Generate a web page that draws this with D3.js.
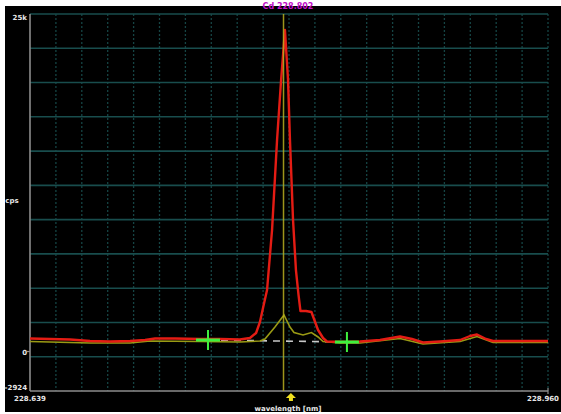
<!DOCTYPE html>
<html><head><meta charset="utf-8">
<script src="https://cdn.jsdelivr.net/npm/d3@7"></script>
<style>html,body{margin:0;padding:0;background:#fff;overflow:hidden}</style>
</head><body>
<svg id="c" width="561" height="414"></svg>
<script>
// ---- data ----
const title = "Cd 228.802";
const xDomain = [228.639, 228.960];
const yDomain = [-2924, 25000];
const xTickLabels = ["228.639", "228.960"];
const yTickLabels = [["25k", 25000], ["0", 0], ["-2924", -2924]];
const yAxisTitle = "cps";
const xAxisTitle = "wavelength [nm]";

const redWl = [228.639,228.6514,228.6638,228.6762,228.6886,228.7010,228.7103,228.7165,228.7289,228.7443,228.7567,228.7691,228.7753,228.7791,228.7815,228.7834,228.7859,228.7890,228.7921,228.7946,228.7970,228.7989,228.8001,228.8020,228.8038,228.8054,228.8066,228.8100,228.8134,228.8175,228.8206,228.8230,228.8342,228.8435,228.8559,228.8683,228.8757,228.8825,228.8931,228.9055,228.9117,228.9160,228.9216,228.9259,228.9426,228.9600];
const redCps = [965,928,891,780,743,780,854,965,965,928,928,891,1002,1372,2187,3224,4557,9001,15668,20112,23815,20112,15668,9742,6038,4187,3002,3002,2928,1594,1002,743,705,743,854,1113,928,668,743,854,1150,1261,928,780,780,780];

const yelWl = [228.639,228.6762,228.7010,228.7134,228.7443,228.7691,228.7815,228.7846,228.7908,228.7964,228.8001,228.8026,228.8082,228.8134,228.8175,228.8206,228.8311,228.8435,228.8683,228.8825,228.9055,228.9160,228.9259,228.9600];
const yelCps = [817,705,705,854,817,780,854,1002,1891,2779,1891,1483,1298,1483,1150,817,705,705,1039,631,817,1187,743,743];

const bgWl = [228.7493, 228.8354];
const bgCps = [854, 705];
const markerWl = 228.7961;   // vertical yellow line
const arrowWl = 228.8007;    // arrow below axis

// ---- drawing ----
const svg = d3.select("#c");
const L = 30, R = 548, T = 14, B = 391;
const x = d3.scaleLinear().domain(xDomain).range([L, R]);
const y = d3.scaleLinear().domain(yDomain).range([B, T]);

svg.append("rect").attr("x",5).attr("y",6).attr("width",556).attr("height",406).attr("fill","#000");

// grid
const gx = d3.range(21).map(i => xDomain[0] + i*(xDomain[1]-xDomain[0])/20);
const gy = d3.range(12).map(i => yDomain[0] + i*(yDomain[1]-yDomain[0])/11);
svg.append("g").selectAll("line").data(gx.slice(1)).join("line")
  .attr("x1", d=>x(d)).attr("x2", d=>x(d)).attr("y1", T).attr("y2", B)
  .attr("stroke", "#154444").attr("stroke-width", 1.3).attr("stroke-dasharray", "2,2");
svg.append("g").selectAll("line").data(gy.slice(1)).join("line")
  .attr("x1", L).attr("x2", R).attr("y1", d=>y(d)).attr("y2", d=>y(d))
  .attr("stroke", "#184d4d").attr("stroke-width", 1.6);

// axes
svg.append("line").attr("x1",L).attr("x2",L).attr("y1",T).attr("y2",B).attr("stroke","#8c8c8c").attr("stroke-width",1.6);
svg.append("line").attr("x1",L).attr("x2",R).attr("y1",B).attr("y2",B).attr("stroke","#8c8c8c").attr("stroke-width",1.6);
svg.append("line").attr("x1",R).attr("x2",R).attr("y1",B-3).attr("y2",B+3).attr("stroke","#8c8c8c").attr("stroke-width",1.2);
svg.append("line").attr("x1",L-3).attr("x2",L).attr("y1",y(0)).attr("y2",y(0)).attr("stroke","#8c8c8c").attr("stroke-width",1.2);

const line = d3.line().x(d=>x(d[0])).y(d=>y(d[1]));

// background dashed line
svg.append("path").datum(d3.zip(bgWl, bgCps)).attr("d", line)
  .attr("fill","none").attr("stroke","#c8c8c8").attr("stroke-width",1.6).attr("stroke-dasharray","7,6");

// yellow trace
svg.append("path").datum(d3.zip(yelWl, yelCps)).attr("d", line)
  .attr("fill","none").attr("stroke","#9a9a14").attr("stroke-width",1.6).attr("transform","translate(0,1)");

// red trace
svg.append("path").datum(d3.zip(redWl, redCps)).attr("d", line)
  .attr("fill","none").attr("stroke","#e41c14").attr("stroke-width",2.4).attr("stroke-linejoin","round");

// marker line
svg.append("line").attr("x1",x(markerWl)).attr("x2",x(markerWl)).attr("y1",T).attr("y2",B)
  .attr("stroke","#b8b020").attr("stroke-width",1.5).attr("opacity",0.85);

// crosses
bgWl.forEach((w,i) => {
  const cx = x(w), cy = y(bgCps[i]);
  svg.append("line").attr("x1",cx-12).attr("x2",cx+12).attr("y1",cy).attr("y2",cy).attr("stroke","#3ef03e").attr("stroke-width",3);
  svg.append("line").attr("x1",cx).attr("x2",cx).attr("y1",cy-10).attr("y2",cy+10).attr("stroke","#3ef03e").attr("stroke-width",2);
});

// arrow
const ax = x(arrowWl);
svg.append("path").attr("d", `M${ax},${B+2} L${ax+5},${B+7} L${ax+2},${B+7} L${ax+2},${B+10} L${ax-2},${B+10} L${ax-2},${B+7} L${ax-5},${B+7} Z`)
  .attr("fill","#f0e020");

// texts
const tf = "'DejaVu Sans', sans-serif";
const txt = (s, tx, ty, anchor, fill, size) => svg.append("text").text(s).attr("x",tx).attr("y",ty)
  .attr("text-anchor",anchor).attr("fill",fill||"#e8e8e8").attr("font-family",tf)
  .attr("font-size",size||7).attr("font-weight","bold");
yTickLabels.forEach(([s,v]) => {
  let ty = y(v) + 3;
  if (v === yDomain[1]) ty = y(v) + 6;
  if (v === yDomain[0]) ty = y(v) - 1;
  txt(s, L - 3, ty, "end");
});
txt(yAxisTitle, 12, 203, "middle");
txt(xTickLabels[0], 30, 401, "middle");
txt(xTickLabels[1], 559, 401, "end");
txt(xAxisTitle, 288, 411, "middle");
svg.append("text").text(title).attr("x",288).attr("y",9).attr("text-anchor","middle")
  .attr("fill","#c010c8").attr("font-family",tf).attr("font-size",8).attr("font-weight","bold");
</script>
</body></html>
